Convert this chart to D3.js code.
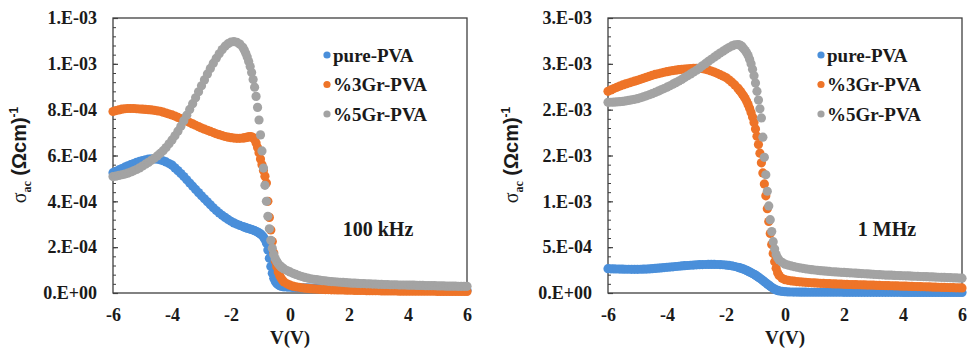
<!DOCTYPE html>
<html><head><meta charset="utf-8">
<script src="https://cdn.jsdelivr.net/npm/d3@7"></script>
<style>body{margin:0;background:#fff}svg{display:block}</style>
</head><body>
<svg id="chart" width="972" height="350"></svg>
<script>
// Bias voltage grid (V): 0.1 V steps, 0.05 V steps through the steep region
const voltage = [].concat(
  d3.range(-6.0, -1.55, 0.1),
  d3.range(-1.55, -0.175, 0.05),
  d3.range(-0.1, 6.05, 0.1)
).map(v => Math.round(v * 100) / 100);

// sigma_ac values in units of 1e-4 (Ohm cm)^-1
// ---- 100 kHz ----
const pure100k = [
  5.25,5.31,5.37,5.43,5.49,5.55,5.60,5.65,5.70,5.74,
  5.78,5.81,5.84,5.85,5.85,5.84,5.81,5.77,5.72,5.65,
  5.58,5.46,5.34,5.21,5.08,4.94,4.80,4.66,4.52,4.38,
  4.24,4.11,3.98,3.85,3.72,3.60,3.49,3.39,3.30,3.21,
  3.13,3.06,3.00,2.95,2.90,
  2.88,2.85,2.83,2.81,2.79,2.77,2.75,2.72,2.69,2.66,
  2.62,2.58,2.52,2.44,2.34,2.18,1.88,1.52,1.16,0.86,
  0.64,0.50,0.41,0.36,0.32,0.30,0.28,0.27,
  0.26,0.25,0.24,0.24,0.23,0.23,0.22,0.22,0.21,0.21,0.21,
  0.20,0.20,0.20,0.19,0.19,0.19,0.18,0.18,0.18,0.18,
  0.17,0.17,0.17,0.17,0.17,0.16,0.16,0.16,0.16,0.16,
  0.16,0.16,0.15,0.15,0.15,0.15,0.15,0.14,0.14,0.14,
  0.14,0.14,0.14,0.13,0.13,0.13,0.13,0.13,0.13,0.13,
  0.12,0.12,0.12,0.12,0.12,0.12,0.12,0.12,0.12,0.12,0.12
];
const gr3_100k = [
  7.92,7.96,7.99,8.02,8.04,8.05,8.05,8.05,8.04,8.03,
  8.02,8.01,8.00,7.99,7.97,7.95,7.93,7.89,7.85,7.81,
  7.77,7.72,7.66,7.61,7.55,7.50,7.44,7.38,7.32,7.26,
  7.20,7.15,7.10,7.05,7.00,6.95,6.91,6.87,6.83,6.80,
  6.78,6.76,6.75,6.75,6.76,
  6.77,6.78,6.80,6.81,6.82,6.81,6.78,6.70,6.55,6.35,
  6.12,5.85,5.60,5.35,5.10,4.80,4.00,3.30,2.75,2.25,
  1.75,1.40,1.15,0.92,0.76,0.64,0.55,0.48,
  0.40,0.34,0.30,0.27,0.25,0.23,0.21,0.20,0.19,0.18,0.17,
  0.16,0.16,0.15,0.15,0.14,0.14,0.13,0.13,0.13,0.12,
  0.12,0.12,0.11,0.11,0.11,0.11,0.10,0.10,0.10,0.10,
  0.10,0.09,0.09,0.09,0.09,0.09,0.09,0.08,0.08,0.08,
  0.08,0.08,0.08,0.08,0.08,0.08,0.08,0.08,0.08,0.08,
  0.07,0.07,0.07,0.07,0.07,0.07,0.07,0.07,0.07,0.07,0.07
];
const gr5_100k = [
  5.08,5.10,5.13,5.16,5.19,5.23,5.28,5.33,5.39,5.46,
  5.54,5.62,5.70,5.79,5.88,5.98,6.09,6.21,6.35,6.51,
  6.68,6.86,7.06,7.28,7.52,7.76,8.01,8.26,8.52,8.78,
  9.04,9.30,9.56,9.80,10.03,10.24,10.44,10.62,10.77,10.88,
  10.95,10.97,10.94,10.86,10.72,
  10.60,10.46,10.30,10.10,9.88,9.62,9.32,8.98,8.58,8.10,
  7.55,6.90,6.20,5.45,4.70,4.00,3.35,2.80,2.30,1.95,
  1.68,1.50,1.38,1.28,1.20,1.14,1.09,1.05,
  0.98,0.92,0.86,0.81,0.76,0.72,0.68,0.65,0.62,0.60,0.58,
  0.56,0.54,0.53,0.51,0.50,0.49,0.48,0.47,0.46,0.45,
  0.44,0.43,0.43,0.42,0.41,0.41,0.40,0.40,0.39,0.39,
  0.38,0.38,0.37,0.37,0.36,0.36,0.36,0.35,0.35,0.35,
  0.34,0.34,0.34,0.33,0.33,0.33,0.32,0.32,0.32,0.32,
  0.31,0.31,0.31,0.30,0.30,0.30,0.30,0.29,0.29,0.29,0.29
];
// ---- 1 MHz ----
const pure1M = [
  2.65,2.64,2.63,2.62,2.61,2.60,2.59,2.59,2.58,2.58,
  2.58,2.59,2.60,2.61,2.63,2.65,2.68,2.71,2.74,2.77,
  2.80,2.83,2.86,2.89,2.92,2.95,2.98,3.00,3.03,3.05,
  3.07,3.09,3.10,3.11,3.12,3.12,3.12,3.11,3.10,3.08,
  3.05,3.01,2.96,2.89,2.81,
  2.76,2.71,2.66,2.60,2.53,2.46,2.38,2.30,2.22,2.13,
  2.04,1.95,1.84,1.73,1.62,1.50,1.37,1.24,1.11,0.98,
  0.86,0.74,0.62,0.51,0.42,0.34,0.28,0.23,
  0.17,0.14,0.12,0.11,0.10,0.10,0.09,0.09,0.09,0.08,0.08,
  0.08,0.08,0.08,0.08,0.08,0.08,0.08,0.08,0.08,0.08,
  0.07,0.07,0.07,0.07,0.07,0.07,0.07,0.07,0.07,0.07,
  0.07,0.07,0.07,0.07,0.07,0.07,0.07,0.07,0.07,0.07,
  0.06,0.06,0.06,0.06,0.06,0.06,0.06,0.06,0.06,0.06,
  0.06,0.06,0.06,0.06,0.06,0.06,0.06,0.06,0.06,0.06,0.06
];
const gr3_1M = [
  22.00,22.15,22.30,22.44,22.57,22.70,22.81,22.91,23.01,23.11,
  23.20,23.31,23.42,23.53,23.64,23.75,23.84,23.92,24.00,24.08,
  24.15,24.21,24.26,24.31,24.36,24.40,24.43,24.46,24.48,24.50,
  24.50,24.50,24.48,24.42,24.33,24.22,24.10,23.96,23.82,23.66,
  23.50,23.26,23.00,22.70,22.35,
  22.15,21.95,21.72,21.48,21.22,20.92,20.55,20.15,19.70,19.20,
  18.60,17.90,17.10,16.20,15.25,14.20,13.10,11.90,10.60,9.20,
  7.80,6.50,5.30,4.30,3.40,2.70,2.20,1.90,
  1.60,1.45,1.38,1.33,1.29,1.25,1.22,1.19,1.16,1.14,1.12,
  1.10,1.08,1.06,1.05,1.03,1.02,1.00,0.99,0.98,0.97,
  0.95,0.94,0.93,0.92,0.91,0.90,0.89,0.88,0.87,0.86,
  0.85,0.84,0.83,0.82,0.81,0.80,0.79,0.78,0.77,0.76,
  0.75,0.74,0.73,0.72,0.71,0.70,0.69,0.68,0.67,0.66,
  0.65,0.64,0.63,0.62,0.61,0.60,0.59,0.58,0.57,0.56,0.55
];
const gr5_1M = [
  20.80,20.81,20.82,20.84,20.87,20.90,20.95,21.01,21.07,21.13,
  21.20,21.30,21.40,21.51,21.63,21.75,21.88,22.02,22.16,22.30,
  22.45,22.61,22.78,22.95,23.12,23.30,23.50,23.70,23.90,24.10,
  24.30,24.54,24.78,25.02,25.26,25.50,25.73,25.95,26.17,26.38,
  26.58,26.78,26.95,27.07,27.10,
  27.07,27.00,26.85,26.65,26.45,26.20,25.90,25.50,25.00,24.40,
  23.70,22.90,22.00,21.05,20.10,19.10,17.00,14.80,12.90,11.10,
  9.50,8.00,6.70,5.60,4.80,4.20,3.85,3.60,
  3.35,3.15,3.05,2.96,2.88,2.81,2.75,2.69,2.64,2.59,2.55,
  2.51,2.47,2.44,2.41,2.38,2.35,2.32,2.30,2.28,2.26,
  2.24,2.22,2.20,2.18,2.16,2.14,2.12,2.10,2.08,2.06,
  2.04,2.02,2.00,1.98,1.96,1.95,1.94,1.92,1.91,1.90,
  1.88,1.87,1.86,1.84,1.83,1.82,1.80,1.79,1.78,1.76,
  1.75,1.74,1.72,1.71,1.70,1.68,1.67,1.66,1.64,1.63,1.62
];

const seriesNames = ["pure-PVA", "%3Gr-PVA", "%5Gr-PVA"];
const seriesColors = ["#4A8FDA", "#EE7428", "#A3A3A3"];
const xTickValues = [-6, -4, -2, 0, 2, 4, 6];
// y ticks in units of 1e-4
const yTickValues100k = [0, 2, 4, 6, 8, 10, 12];
const yTickLabels100k = ["0.E+00","2.E-04","4.E-04","6.E-04","8.E-04","1.E-03","1.E-03"];
const yTickValues1M = [0, 5, 10, 15, 20, 25, 30];
const yTickLabels1M = ["0.E+00","5.E-04","1.E-03","2.E-03","2.E-03","3.E-03","3.E-03"];
const freqLabels = ["100 kHz", "1 MHz"];

const svg = d3.select("#chart");
const SERIF = "'Liberation Serif','Times New Roman',serif";
const SANS = "'Liberation Sans',Arial,sans-serif";

const panels = [
  {x0:113, x1:467, series:[pure100k, gr3_100k, gr5_100k], yt:yTickValues100k, yl:yTickLabels100k,
   minor:0.4, freq:freqLabels[0], fx:378, legX:327, titleX:26},
  {x0:608, x1:962, series:[pure1M, gr3_1M, gr5_1M], yt:yTickValues1M, yl:yTickLabels1M,
   minor:1, freq:freqLabels[1], fx:887, legX:821, titleX:518}
];
const yTop = 18, yBot = 293;

panels.forEach(p => {
  const x = d3.scaleLinear().domain([-6, 6]).range([p.x0, p.x1]);
  const yMax = p.yt[p.yt.length - 1];
  const y = d3.scaleLinear().domain([0, yMax]).range([yBot, yTop]);
  const g = svg.append("g");

  // frame
  g.append("rect").attr("x", p.x0).attr("y", yTop)
    .attr("width", p.x1 - p.x0).attr("height", yBot - yTop)
    .attr("fill", "none").attr("stroke", "#3f3f3f").attr("stroke-width", 1.3);

  // minor ticks (inside)
  const minorVals = d3.range(0, yMax + 1e-9, p.minor);
  g.append("g").attr("transform", `translate(${p.x0},0)`)
    .call(d3.axisLeft(y).tickValues(minorVals).tickSize(-3).tickSizeOuter(0).tickFormat(""))
    .call(s => s.select(".domain").remove())
    .call(s => s.selectAll("line").attr("stroke", "#3f3f3f").attr("stroke-width", 1));

  // major y ticks + labels
  g.append("g").attr("transform", `translate(${p.x0},0)`)
    .call(d3.axisLeft(y).tickValues(p.yt).tickSize(-5).tickSizeOuter(0).tickPadding(16)
      .tickFormat((d, i) => p.yl[i]))
    .call(s => s.select(".domain").remove())
    .call(s => s.selectAll("line").attr("stroke", "#3f3f3f").attr("stroke-width", 1.2))
    .call(s => s.selectAll("text").attr("font-family", SERIF).attr("font-weight", "bold")
      .attr("font-size", 18).attr("fill", "#1a1a1a"));

  // x axis labels
  g.append("g").attr("transform", `translate(0,${yBot})`)
    .call(d3.axisBottom(x).tickValues(xTickValues).tickSize(0).tickPadding(15).tickFormat(d3.format("d")))
    .call(s => s.select(".domain").remove())
    .call(s => s.selectAll("text").attr("font-family", SERIF).attr("font-weight", "bold")
      .attr("font-size", 18).attr("fill", "#1a1a1a")
      .text(d => (d < 0 ? "-" + Math.abs(d) : String(d))));

  // x title
  g.append("text").attr("x", (p.x0 + p.x1) / 2).attr("y", 344).attr("text-anchor", "middle")
    .attr("font-family", SERIF).attr("font-weight", "bold").attr("font-size", 19)
    .attr("fill", "#1a1a1a").text("V(V)");

  // y title
  const t = g.append("text").attr("transform", `translate(${p.titleX},155) rotate(-90)`)
    .attr("text-anchor", "middle").attr("fill", "#1a1a1a").attr("font-size", 20);
  t.append("tspan").attr("font-family", SERIF).text("σ");
  t.append("tspan").attr("font-family", SERIF).attr("font-weight", "bold")
    .attr("font-size", 12).attr("dy", 5).text("ac");
  t.append("tspan").attr("font-family", SANS).attr("font-weight", "bold")
    .attr("dy", -5).text(" (Ωcm)");
  t.append("tspan").attr("font-family", SANS).attr("font-weight", "bold")
    .attr("font-size", 12).attr("dy", -8).text("-1");

  // data points
  p.series.forEach((vals, si) => {
    const n = Math.min(vals.length, voltage.length);
    const pts = d3.range(n).map(i => ({v: voltage[i], s: vals[i]}));
    g.append("g").selectAll("circle").data(pts).join("circle")
      .attr("cx", d => x(d.v)).attr("cy", d => y(d.s)).attr("r", 4.6)
      .attr("fill", seriesColors[si]);
  });

  // legend
  seriesNames.forEach((name, i) => {
    const ly = 55 + i * 29.5;
    g.append("circle").attr("cx", p.legX).attr("cy", ly).attr("r", 3.6).attr("fill", seriesColors[i]);
    g.append("text").attr("x", p.legX + 6).attr("y", ly).attr("dy", "0.35em")
      .attr("font-family", SERIF).attr("font-weight", "bold").attr("font-size", 19)
      .attr("fill", "#1a1a1a").text(name);
  });

  // frequency label
  g.append("text").attr("x", p.fx).attr("y", 236).attr("text-anchor", "middle")
    .attr("font-family", SERIF).attr("font-weight", "bold").attr("font-size", 20)
    .attr("fill", "#1a1a1a").text(p.freq);
});
</script>
</body></html>
